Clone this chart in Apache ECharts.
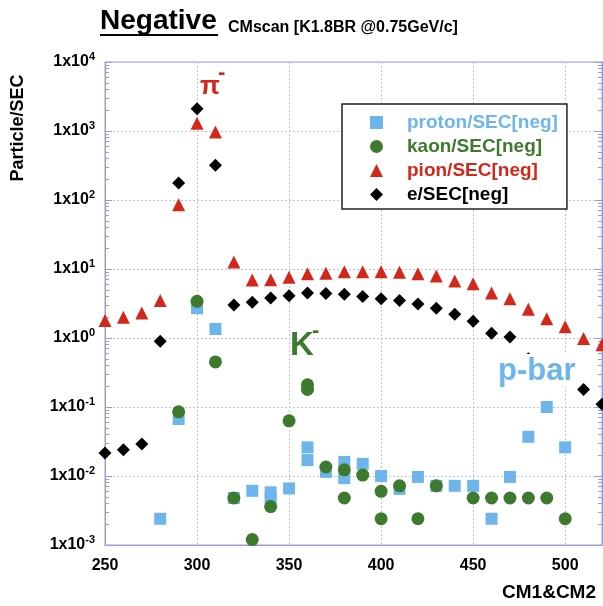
<!DOCTYPE html>
<html>
<head>
<meta charset="utf-8">
<script src="https://cdn.jsdelivr.net/npm/echarts@6/dist/echarts.min.js"></script>
<style>
  html, body { margin: 0; padding: 0; background: #fff; }
  #main { width: 603px; height: 606px; }
</style>
</head>
<body>
<div id="main"></div>
<script>
// ---- data ----
const protonX = [280, 290, 300, 310, 320, 330, 340, 340, 350, 360, 360, 370, 380, 380, 390, 400, 410, 420, 430, 440, 450, 460, 470, 480, 490, 500];
const protonY = [0.0024, 0.067, 2.7, 1.35, 0.0048, 0.0061, 0.0058, 0.0048, 0.0066, 0.026, 0.017, 0.0115, 0.016, 0.0093, 0.015, 0.010, 0.0065, 0.0097, 0.0072, 0.0072, 0.0072, 0.0024, 0.0097, 0.037, 0.10, 0.026];

const kaonX = [290, 300, 310, 320, 330, 340, 350, 360, 360, 370, 380, 380, 390, 400, 400, 410, 420, 430, 450, 460, 470, 480, 490, 500];
const kaonY = [0.085, 3.4, 0.45, 0.0048, 0.0012, 0.0036, 0.063, 0.21, 0.18, 0.0135, 0.0123, 0.0048, 0.0103, 0.006, 0.0024, 0.0072, 0.0024, 0.0072, 0.0048, 0.0048, 0.0048, 0.0048, 0.0048, 0.0024];

const pionX = [250, 260, 270, 280, 290, 300, 310, 320, 330, 340, 350, 360, 370, 380, 390, 400, 410, 420, 430, 440, 450, 460, 470, 480, 490, 500, 510, 520];
const pionY = [1.8, 2.0, 2.3, 3.5, 85, 1300, 970, 12.6, 6.9, 7.0, 7.6, 8.5, 8.7, 9.1, 9.1, 9.1, 9.0, 8.5, 7.9, 6.7, 6.1, 4.5, 3.7, 2.6, 1.9, 1.45, 0.98, 0.8];

const eX = [250, 260, 270, 280, 290, 300, 310, 320, 330, 340, 350, 360, 370, 380, 390, 400, 410, 420, 430, 440, 450, 460, 470, 480, 490, 500, 510, 520];
const eY = [0.0215, 0.024, 0.029, 0.9, 177, 2100, 320, 3.0, 3.3, 3.8, 4.1, 4.5, 4.4, 4.3, 4.0, 3.7, 3.5, 3.1, 2.7, 2.2, 1.75, 1.17, 1.03, 0.5, 0.4, 0.3, 0.18, 0.11];

const seriesNames = ['proton/SEC[neg]', 'kaon/SEC[neg]', 'pion/SEC[neg]', 'e/SEC[neg]'];
const seriesColors = ['#6db5ea', '#3e7a2e', '#d2281b', '#000000'];

function pairs(xs, ys) {
  return xs.map((x, i) => [x, ys[i]]);
}

const chart = echarts.init(document.getElementById('main'));

const axisColor = '#9c9cd0';
const gridLine = { show: true, lineStyle: { color: '#c0c0e0', type: [2, 2], width: 1 } };
const boldText = { fontFamily: 'Liberation Sans', fontWeight: 'bold', color: '#000' };

function yLabel(v) {
  const e = Math.round(Math.log10(v));
  return '{a|1x10}{b|' + e + '}';
}

const yRich = {
  a: { fontFamily: 'Liberation Sans', fontWeight: 'bold', fontSize: 16, color: '#000' },
  b: { fontFamily: 'Liberation Sans', fontWeight: 'bold', fontSize: 11, color: '#000', padding: [0, 0, 10, 0] }
};

chart.setOption({
  animation: false,
  backgroundColor: '#fff',
  grid: { left: 105, top: 62, right: 1, bottom: 61, show: true, borderColor: axisColor, borderWidth: 1 },
  xAxis: {
    type: 'value', min: 250, max: 520, interval: 50,
    axisLine: { lineStyle: { color: axisColor } },
    axisTick: { show: false },
    splitLine: gridLine,
    axisLabel: Object.assign({ fontSize: 16, margin: 13, showMaxLabel: false }, boldText)
  },
  yAxis: [{
    type: 'log', logBase: 10, min: 0.001, max: 10000,
    axisLine: { show: true, lineStyle: { color: axisColor } },
    axisTick: { show: true, inside: true, length: 7, lineStyle: { color: axisColor } },
    minorTick: { show: true, splitNumber: 9, length: 4, lineStyle: { color: axisColor } },
    splitLine: gridLine,
    axisLabel: { formatter: yLabel, rich: yRich, margin: 10 }
  }, {
    type: 'log', logBase: 10, min: 0.001, max: 10000, position: 'right',
    axisLine: { show: true, lineStyle: { color: axisColor } },
    axisTick: { show: true, inside: true, length: 7, lineStyle: { color: axisColor } },
    minorTick: { show: true, splitNumber: 9, length: 4, lineStyle: { color: axisColor } },
    splitLine: { show: false },
    axisLabel: { show: false }
  }],
  legend: {
    orient: 'vertical',
    left: 342, top: 104,
    padding: [9, 9, 5, 28],
    itemGap: 5,
    itemWidth: 13, itemHeight: 13,
    backgroundColor: '#fff',
    borderColor: '#222', borderWidth: 1.5,
    textStyle: { fontFamily: 'Liberation Sans', fontWeight: 'bold', fontSize: 19, padding: [0, 0, 0, 19] },
    data: seriesNames.map((n, i) => ({ name: n, textStyle: { color: seriesColors[i] } }))
  },
  series: [
    { name: seriesNames[0], type: 'scatter', symbol: 'rect', symbolSize: 12, data: pairs(protonX, protonY), itemStyle: { color: seriesColors[0], opacity: 1 } },
    { name: seriesNames[1], type: 'scatter', symbol: 'circle', symbolSize: 13, data: pairs(kaonX, kaonY), itemStyle: { color: seriesColors[1], opacity: 1 } },
    { name: seriesNames[2], type: 'scatter', symbol: 'triangle', symbolSize: 13, data: pairs(pionX, pionY), itemStyle: { color: seriesColors[2], opacity: 1 } },
    { name: seriesNames[3], type: 'scatter', symbol: 'diamond', symbolSize: 13, data: pairs(eX, eY), itemStyle: { color: seriesColors[3], opacity: 1 } }
  ],
  graphic: [
    { type: 'text', left: 100, top: 7, style: { text: 'Negative', font: 'bold 28px "Liberation Sans"', fill: '#000' } },
    { type: 'rect', left: 100, top: 34, shape: { width: 118, height: 2 }, style: { fill: '#000' } },
    { type: 'text', left: 228, top: 20, style: { text: 'CMscan [K1.8BR @0.75GeV/c]', font: 'bold 16px "Liberation Sans"', fill: '#000' } },
    { type: 'text', x: 18, y: 128, rotation: Math.PI / 2, style: { text: 'Particle/SEC', font: 'bold 18px "Liberation Sans"', fill: '#000', align: 'center', verticalAlign: 'middle' } },
    { type: 'text', right: 7, top: 583, style: { text: 'CM1&CM2', font: 'bold 19px "Liberation Sans"', fill: '#000' } },
    { type: 'text', z: 100, left: 200, top: 74, style: { text: 'π', font: 'bold 26px "Liberation Sans"', fill: '#d2281b' } },
    { type: 'text', z: 100, left: 218, top: 62, style: { text: '-', font: 'bold 22px "Liberation Sans"', fill: '#d2281b' } },
    { type: 'text', z: 100, left: 290, top: 329, style: { text: 'K', font: 'bold 33px "Liberation Sans"', fill: '#3e7a2e' } },
    { type: 'text', z: 100, left: 312, top: 320, style: { text: '-', font: 'bold 22px "Liberation Sans"', fill: '#3e7a2e' } },
    { type: 'text', z: 100, left: 496, top: 354, style: { text: 'p-bar', font: 'bold 31px "Liberation Sans"', fill: '#6db5ea', backgroundColor: '#fff', padding: [2, 2, 0, 2] } }
  ]
});
</script>
</body>
</html>
